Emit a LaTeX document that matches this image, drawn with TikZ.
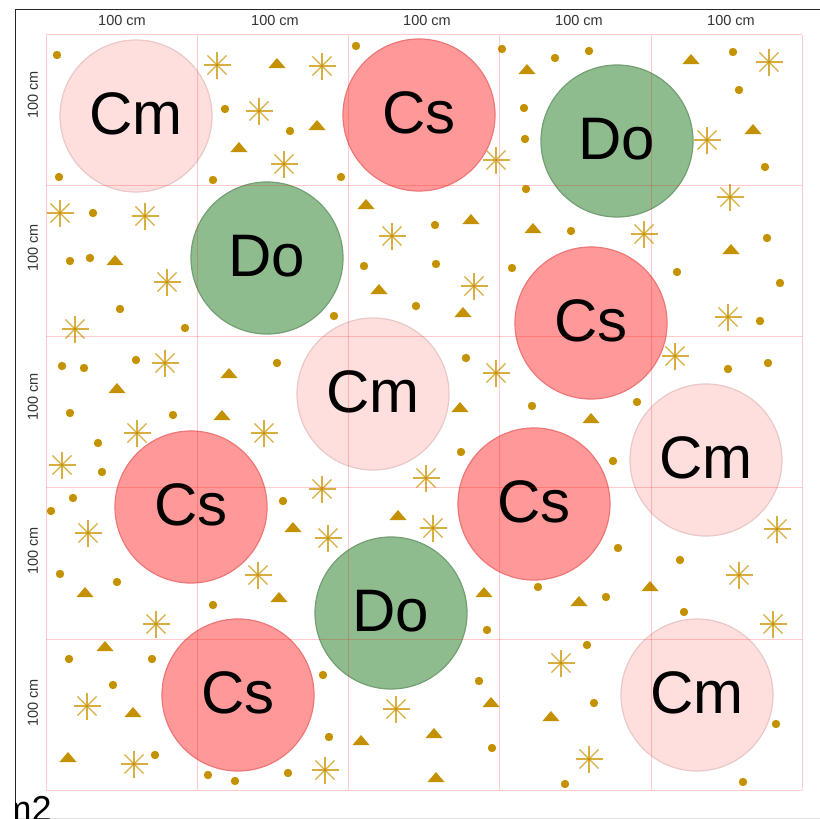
\documentclass[tikz,border=0pt]{standalone}
\usepackage{fontspec}
\setmainfont{Liberation Sans}
\definecolor{gold}{RGB}{196,146,0}
\definecolor{goldlight}{RGB}{216,174,64}
\definecolor{cmfill}{RGB}{255,222,222}
\definecolor{cmline}{RGB}{234,200,200}
\definecolor{csfill}{RGB}{255,153,153}
\definecolor{csline}{RGB}{238,118,118}
\definecolor{dofill}{RGB}{143,188,143}
\definecolor{doline}{RGB}{114,160,114}
\definecolor{labelgray}{RGB}{51,51,51}
\tikzset{
  plant/.style={circle, minimum size=152pt, inner sep=0pt, line width=1.2pt,
    font=\fontsize{60}{60}\selectfont, text height=44pt, text depth=7pt},
  cmnode/.style={plant, fill=cmfill, draw=cmline},
  csnode/.style={plant, fill=csfill, draw=csline},
  donode/.style={plant, fill=dofill, draw=doline},
  gridline/.style={draw=red, draw opacity=0.2, line width=1pt},
  dimlabel/.style={font=\fontsize{14.5}{14.5}\selectfont, text=labelgray, inner sep=0pt},
  pics/ast/.style={code={
    \foreach \a in {0,45,...,315} \draw[goldlight, line width=1.2pt] (0,0) -- (\a:13.5pt);
    \fill[gold] (0,0) circle (1.6pt);
  }},
  pics/tri/.style={code={
    \fill[gold] (-8.5pt,-5pt) -- (8.5pt,-5pt) -- (0pt,5pt) -- cycle;
  }}
}
\begin{document}
\begin{tikzpicture}[x=1pt,y=-1pt]
\useasboundingbox (0,0) rectangle (820,819);
\fill[white] (0,0) rectangle (820,819);

% frame
\draw[black!85, line width=1pt] (15,819) -- (15,9) -- (820,9);
\draw[black!12, line width=0.8pt] (15,818) -- (820,818);

% dimension labels
\foreach \x [count=\i] in {122,275,427,579,731}
  \node[dimlabel] (top\i) at (\x,20.5) {100 cm};
\foreach \y [count=\i] in {95,248,397,551,703}
  \node[dimlabel, rotate=90] (left\i) at (33,\y) {100 cm};

% dots
\foreach \p in {(57,55),(225,109),(290,131),(59,177),(213,180),(93,213),(70,261),(90,258),(120,309),(185,328),(62,366),(84,368),(136,360),(70,413),(173,415),(277,363),
(356,46),(341,177),(502,49),(555,58),(524,108),(525,139),(526,189),(435,225),(364,266),(436,264),(512,268),(416,306),(334,316),(466,358),(532,406),
(589,51),(733,52),(739,90),(765,167),(571,231),(767,238),(677,272),(780,283),(760,321),(728,369),(768,363),(637,402),
(98,443),(102,472),(73,498),(51,511),(283,501),(60,574),(117,582),(213,605),(69,659),(152,659),(113,685),(155,755),(208,775),(235,781),(288,773),
(461,452),(538,587),(487,630),(323,675),(479,681),(329,737),(492,748),
(613,461),(618,548),(680,560),(606,597),(684,612),(587,645),(594,703),(776,724),(565,784),(743,782)}
  \fill[gold] \p circle (4.2pt);

% triangles
\foreach \p in {(277,63),(239,147),(115,260),(117,388),(229,373),(222,415),
(317,125),(527,69),(366,204),(471,219),(533,228),(379,289),(463,312),(460,407),
(691,59),(753,129),(731,249),(591,418),
(293,527),(85,592),(279,597),(105,646),(133,712),(68,757),
(398,515),(484,592),(491,702),(551,716),(434,733),(361,740),(436,777),
(650,586),(579,601)}
  \pic at \p {tri};

% asterisks
\foreach \p in {(217,65),(259,111),(284,164),(60,213),(145,216),(167,282),(75,329),(165,363),
(322,66),(496,160),(392,236),(474,286),(496,373),
(769,62),(707,140),(730,197),(644,234),(728,317),(675,356),
(137,433),(264,433),(62,465),(88,533),(258,575),(156,624),(87,706),(134,764),
(426,478),(322,489),(433,528),(328,538),(396,709),(325,770),
(777,529),(739,575),(773,624),(561,663),(589,759)}
  \pic at \p {ast};

% plants
\node[cmnode] (cm1) at (136,116) {Cm};
\node[csnode] (cs1) at (419,115) {Cs};
\node[donode] (do1) at (617,141) {Do};
\node[donode] (do2) at (267,258) {Do};
\node[csnode] (cs2) at (591,323) {Cs};
\node[cmnode] (cm2) at (373,394) {Cm};
\node[cmnode] (cm3) at (706,460) {Cm};
\node[csnode] (cs3) at (191,507) {Cs};
\node[csnode] (cs4) at (534,504) {Cs};
\node[donode] (do3) at (391,613) {Do};
\node[csnode] (cs5) at (238,695) {Cs};
\node[cmnode] (cm4) at (697,695) {Cm};

% grid
\foreach \x in {46,197.3,348.7,499.7,651,802.3}
  \draw[gridline] (\x,34.7) -- (\x,790);
\foreach \y in {34.7,185.3,336,487.8,639.3,790}
  \draw[gridline] (46,\y) -- (802.3,\y);

% unit text, clipped at the frame
\begin{scope}
  \clip (15.5,770) rectangle (820,819);
  \node[anchor=base west, inner sep=0pt, font=\fontsize{36}{36}\selectfont] (unit) at (1.5,821) {m2};
\end{scope}
\end{tikzpicture}
\end{document}
